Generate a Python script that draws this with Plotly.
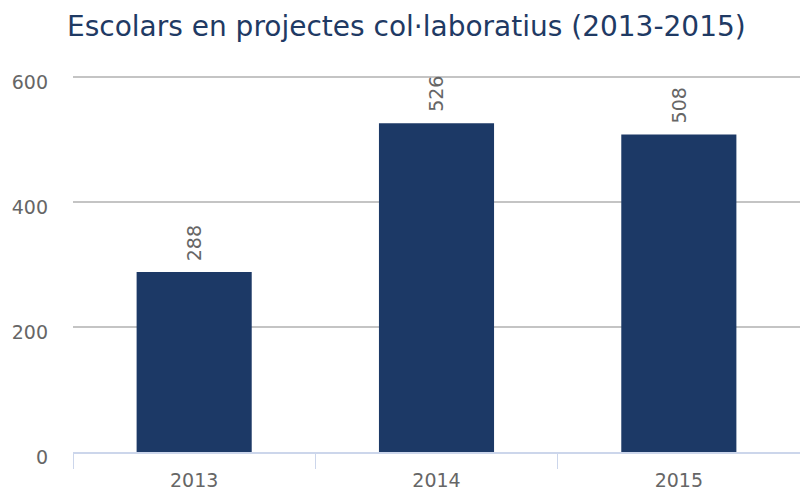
import plotly.graph_objects as go

# School participation in collaborative projects, by year
years = ["2013", "2014", "2015"]
students = [288, 526, 508]
y_ticks = [0, 200, 400, 600]

bar_color = "#1c3966"
text_color = "#666666"
font_family = "DejaVu Sans, Verdana, sans-serif"

fig = go.Figure(
    go.Bar(
        x=years,
        y=students,
        marker=dict(color=bar_color, line=dict(width=0)),
        cliponaxis=False,
        hoverinfo="x+y",
    )
)

# Value labels, rotated, sitting just above each bar
# (category positions given by index so numeric-looking names are not misread)
for i, v in enumerate(students):
    fig.add_annotation(
        x=i,
        y=v,
        text=str(v),
        textangle=-90,
        showarrow=False,
        xanchor="center",
        yanchor="bottom",
        yshift=9,
        font=dict(size=19, color=text_color, family=font_family),
    )

fig.update_layout(
    width=800,
    height=490,
    margin=dict(l=73, r=0, t=74, b=38),
    paper_bgcolor="white",
    plot_bgcolor="white",
    bargap=0.525,
    showlegend=False,
    font=dict(family=font_family, color=text_color, size=19),
    title=dict(
        text="Escolars en projectes col·laboratius (2013-2015)",
        x=67 / 800,
        xanchor="left",
        y=1 - 26 / 490,
        yanchor="middle",
        font=dict(size=28, color="#1f3a64", family=font_family),
    ),
)

fig.update_xaxes(
    type="category",
    range=[-0.5, 2.5],
    showline=True,
    linecolor="#ccd6eb",
    linewidth=2,
    ticks="outside",
    tickson="boundaries",
    ticklen=15,
    tickcolor="#ccd6eb",
    tickwidth=1,
    showgrid=False,
    ticklabelstandoff=10,
    tickfont=dict(size=19, color=text_color),
)

# Top of range padded so the 600 gridline sits inside the plot area
fig.update_yaxes(
    range=[0, 605],
    tickvals=y_ticks,
    showgrid=True,
    gridcolor="#c4c4c4",
    gridwidth=1.5,
    zeroline=False,
    showline=False,
    ticklabelstandoff=24,
    ticklabelshift=5,
    tickfont=dict(size=19, color=text_color),
)

fig.write_html("out.html")
